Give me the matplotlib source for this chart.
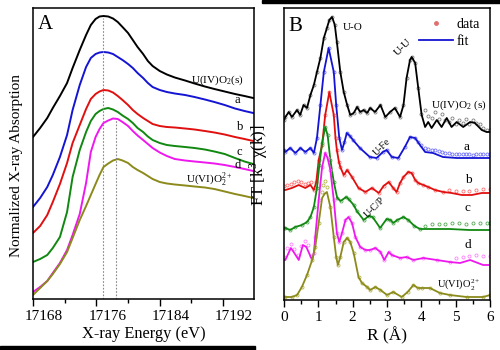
import numpy as np
import matplotlib
matplotlib.use("Agg")
import matplotlib.pyplot as plt
from matplotlib.lines import Line2D
from matplotlib.patches import Rectangle
import matplotlib.transforms as mtransforms

plt.rcParams['font.family'] = ['Liberation Serif', 'DejaVu Serif']
plt.rcParams['mathtext.fontset'] = 'stix'

# ---------------- Panel A : XANES ----------------
E_A = [17168.0,17168.9,17169.8,17170.5,17171.4,17172.3,17173.0,17173.9,17174.7,17175.3,17175.9,17176.4,17176.9,17177.5,17178.1,17178.7,17179.3,17180.0,17180.6,17181.2,17181.9,17182.5,17183.1,17184.0,17184.9,17185.9,17187.2,17188.4,17189.7,17190.9,17192.2,17193.5,17194.7,17195.8]
mu_black = [163,172,182,192,204,217,232,250,265,275,281,283.5,284,283.5,281.5,278,273,267,260,253,246,239,234,229,225.5,222.5,219.5,216.5,213.5,211,208.5,206,204,202]
mu_blue = [93,102,113,125,143,165,190,215,233,242,246,247.5,248,247.5,246,243,240,236,232,227,222,217,213,210,208,206.5,205,203,200.5,198,195,191.5,189,187]
mu_red = [67,74,85,98,116,137,157,175,191,201,206,208.5,210,209.5,207.5,204,200,195,190,186,182,179,176,174,173,172.5,171.5,170.5,169,167.5,165.5,163,161,159]
mu_green = [38,41,45,52,63,88,123,150,168,179,186,189,191,192,190.5,188,184.5,181,177,172,168,163.5,160,157,155,154,153,152,150.5,148.5,146,142,138.5,136]
mu_mag = [8,13,19,27,37,50,65,86,117,148,163,171,177,179.5,181.5,181,178,174,169,164.5,160,156,152,147.5,144,141,139.5,138.5,137.5,136.5,135,133,131,129]
mu_olive = [5,12,19,26,36,48,62,80,94,105,116,125,133,136.5,139.5,141,139.5,137,133,130,127,124,121,118,116.5,115.5,114.5,113.5,112.5,111,108.5,106,104,102]

edge_lines = [17176.8, 17178.5]
edge_tops = [282, 180]

xanes_ticks = [17168, 17176, 17184, 17192]

# ---------------- Panel B : FT EXAFS ----------------
R_black = [0.0,0.04,0.14,0.23,0.38,0.47,0.57,0.67,0.77,0.87,0.96,1.06,1.16,1.25,1.32,1.40,1.48,1.54,1.64,1.74,1.84,1.93,2.03,2.13,2.22,2.32,2.42,2.51,2.65,2.81,2.95,3.09,3.23,3.38,3.48,3.57,3.67,3.72,3.82,3.91,4.01,4.11,4.20,4.30,4.45,4.59,4.74,4.88,5.03,5.22,5.42,5.56,5.76,5.90,6.0]
y_black = [180,183,188,183,190,185,195,192,205,215,228,242,262,272,280,283,275,258,228,208,195,185,187,193,188,190,187,192,188,195,183,188,192,183,195,222,240,243,237,212,185,173,178,172,180,173,182,173,178,173,178,177,170,168,168]
Rd_black = [4.0,4.1,4.2,4.3,4.4,4.5,4.6,4.7,4.8,4.9,5.0,5.1,5.2,5.3,5.4,5.5,5.6,5.7,5.8,5.9,6.0]
yd_black = [186,190,184,182,188,181,186,180,178,182,176,180,177,181,176,180,177,176,172,170,170]

R_blue = [0.0,0.04,0.18,0.33,0.48,0.62,0.77,0.87,0.96,1.06,1.16,1.30,1.45,1.52,1.61,1.69,1.76,1.83,1.92,2.01,2.21,2.50,2.70,2.88,2.99,3.14,3.33,3.52,3.67,3.82,3.96,4.11,4.34,4.63,5.03,5.42,5.80,6.0]
y_blue = [150,148,152,147,152,148,152,147,162,195,228,252,228,195,162,150,158,167,164,160,152,143,142,148,150,143,142,153,163,162,155,148,147,143,142,142,142,142]
Rd_blue = [3.9,4.0,4.1,4.2,4.3,4.4,4.5,4.6,4.7,4.8,4.9,5.0,5.1,5.2,5.3,5.4,5.5,5.6,5.7,5.8,5.9,6.0]
yd_blue = [158,155,152,151,150,150,149,148,147,147,146,146,146,146,146,146,145,146,146,146,146,146]

R_red = [0.0,0.04,0.23,0.43,0.62,0.77,0.87,0.94,1.01,1.11,1.20,1.32,1.45,1.50,1.54,1.60,1.64,1.74,1.84,1.98,2.17,2.37,2.56,2.76,2.90,3.05,3.18,3.28,3.38,3.48,3.62,3.72,3.82,3.91,4.06,4.20,4.40,4.64,4.88,5.18,5.47,5.76,6.0]
y_red = [110,110,112,115,112,115,110,118,140,155,185,208,185,162,150,138,133,125,130,123,112,108,112,107,114,118,112,108,117,123,128,127,120,117,115,113,110,108,107,105,105,107,107]
Rd_red = [0.0,0.1,0.2,0.3,0.4,0.5,0.6,0.7,0.8]
yd_red = [114,115,116,118,119,118,116,117,118]
Rd_red2 = [4.8,5.0,5.2,5.4,5.6,5.8,6.0]
yd_red2 = [110,109,109,109,110,111,111]

R_green = [0.0,0.04,0.18,0.33,0.52,0.67,0.77,0.87,0.96,1.03,1.11,1.20,1.27,1.35,1.45,1.55,1.65,1.81,1.88,2.03,2.12,2.32,2.47,2.58,2.80,2.99,3.10,3.18,3.30,3.48,3.62,3.80,3.96,4.25,4.83,5.40,6.0]
y_green = [72,72,70,73,75,78,83,93,112,135,157,173,165,140,118,102,99,103,101,95,89,80,84,83,72,81,80,77,80,83,80,74,71,71,71,70,70]
Rd_green = [4.1,4.3,4.5,4.7,4.9,5.1,5.3,5.5,5.7,5.9,6.0]
yd_green = [74,76,76,76,77,77,76,77,77,77,77]

R_mag = [0.0,0.04,0.2,0.3,0.43,0.55,0.65,0.82,0.87,0.91,1.01,1.11,1.20,1.27,1.35,1.45,1.54,1.61,1.69,1.79,1.88,1.98,2.08,2.22,2.37,2.51,2.66,2.81,2.92,3.05,3.14,3.38,3.57,3.77,4.06,4.45,4.83,5.13,5.42,5.80,6.0]
y_mag = [40,40,52,47,40,55,53,40,47,63,100,133,147,142,130,100,67,58,67,80,83,77,63,53,50,50,52,48,40,48,45,42,43,40,42,40,38,37,40,35,35]
Rd_mag = [0.0,0.1,0.2,0.3,0.4,0.5,0.6,0.7,0.8]
yd_mag = [43,52,56,51,45,54,59,55,44]
Rd_mag2 = [5.0,5.2,5.4,5.6,5.8,6.0]
yd_mag2 = [42,43,44,45,44,44]

R_olive = [0.0,0.04,0.23,0.38,0.52,0.67,0.82,0.91,1.01,1.11,1.18,1.25,1.35,1.45,1.52,1.57,1.64,1.74,1.84,1.93,2.03,2.17,2.27,2.42,2.51,2.66,2.81,3.0,3.18,3.43,3.60,3.77,3.90,4.01,4.25,4.54,4.83,5.32,5.80,6.0]
y_olive = [3,3,3,5,13,25,40,53,77,102,106,108,93,63,43,35,43,58,62,58,47,23,17,13,10,13,10,5,8,3,8,15,12,12,12,7,5,3,3,5]
Rd_olive = [1.10,1.15,1.20,1.25]
yd_olive = [108,115,119,113]

C_BLACK, C_BLUE, C_RED, C_GREEN, C_MAG, C_OLIVE = '#000000', '#1414d2', '#e01010', '#118811', '#ee18ee', '#8c8a1c'
D_BLACK, D_BLUE, D_RED, D_GREEN, D_MAG, D_OLIVE = '#808080', '#7070ff', '#ff7070', '#55aa55', '#ff80ff', '#b4b448'

fig = plt.figure(figsize=(5.0, 3.5), dpi=100)
W, H = 500.0, 350.0
axA = fig.add_axes([33/W, 1-299/H, (254-33)/W, (299-8)/H])
axB = fig.add_axes([284/W, 1-300/H, (490-284)/W, (300-8)/H])

lw = 1.4
for mu, c in [(mu_black, C_BLACK), (mu_blue, C_BLUE), (mu_red, C_RED),
              (mu_green, C_GREEN), (mu_mag, C_MAG), (mu_olive, C_OLIVE)]:
    axA.plot(E_A, mu, color=c, lw=lw, solid_joinstyle='round')
axA.vlines(edge_lines, 1, edge_tops, colors='#888888', linestyles=(0, (1.5, 1.5)), lw=0.8)
axA.set_xlim(17168, 17195.9)
axA.set_ylim(1, 292)
axA.set_xticks(xanes_ticks)
axA.set_xticks(np.arange(17168, 17196, 4), minor=True)
axA.set_yticks([])
axA.tick_params(axis='x', which='major', direction='out', length=5, width=1, labelsize=11, pad=3)
axA.tick_params(axis='x', which='minor', direction='out', length=3, width=1)
offset = mtransforms.ScaledTranslation(11/100, 0, fig.dpi_scale_trans)
for lab in axA.get_xticklabels():
    lab.set_transform(lab.get_transform() + offset)
axA.set_xlabel('X-ray Energy (eV)', fontsize=11.8)
axA.xaxis.set_label_coords(0.5, -0.092)
axA.set_ylabel('Normalized X-ray Absorption', fontsize=11)
axA.yaxis.set_label_coords(-0.045, 0.46)
axA.text(0.055, 0.945, 'A', transform=axA.transAxes, fontsize=15, ha='center', va='center')
tk = dict(fontsize=8, ha='center', va='center')
axA.text(17191.3, 220, r'U(IV)O$_\mathregular{2}$(s)', **tk)
axA.text(17193.8, 200, 'a', fontsize=9, ha='center', va='center')
axA.text(17194.1, 173, 'b', fontsize=9, ha='center', va='center')
axA.text(17194.0, 148, 'c', fontsize=9, ha='center', va='center')
axA.text(17193.8, 135, 'd', fontsize=9, ha='center', va='center')
axA.text(17190.3, 120, r'U(VI)O$_\mathregular{2}^{\mathregular{2+}}$', **tk)

def merged(Rf, yf, segs):
    Rf = np.asarray(Rf); yf = np.asarray(yf)
    keep = np.ones(len(Rf), bool)
    Rs, ys = [], []
    for Rd, yd in segs:
        keep &= ~((Rf >= min(Rd) - 0.02) & (Rf <= max(Rd) + 0.02))
        Rs.append(np.asarray(Rd)); ys.append(np.asarray(yd))
    Rall = np.concatenate([Rf[keep]] + Rs)
    yall = np.concatenate([yf[keep]] + ys)
    o = np.argsort(Rall)
    return Rall[o], yall[o]

curvesB = [
    (R_black, y_black, [(Rd_black, yd_black)], C_BLACK, D_BLACK),
    (R_blue, y_blue, [(Rd_blue, yd_blue)], C_BLUE, D_BLUE),
    (R_red, y_red, [(Rd_red, yd_red), (Rd_red2, yd_red2)], C_RED, D_RED),
    (R_green, y_green, [(Rd_green, yd_green)], C_GREEN, D_GREEN),
    (R_mag, y_mag, [(Rd_mag, yd_mag), (Rd_mag2, yd_mag2)], C_MAG, D_MAG),
    (R_olive, y_olive, [(Rd_olive, yd_olive)], C_OLIVE, D_OLIVE),
]
for Rf, yf, segs, c, dc in curvesB:
    Rd, yd = merged(Rf, yf, segs)
    axB.plot(Rd, yd, ls='none', marker='o', ms=2.2, mfc='none', mec=dc, mew=0.6)
    axB.plot(Rf, yf, color=c, lw=1.3, solid_joinstyle='round')

axB.set_xlim(0, 6)
axB.set_ylim(0, 292)
axB.set_xticks(range(0, 7))
axB.set_xticks(np.arange(0, 6.01, 0.5), minor=True)
axB.set_yticks([])
axB.tick_params(axis='x', which='major', direction='out', length=5, width=1, labelsize=11, pad=3)
axB.tick_params(axis='x', which='minor', direction='out', length=3, width=1)
axB.set_xlabel('R (Å)', fontsize=12.5)
axB.xaxis.set_label_coords(0.5, -0.092)
axB.set_ylabel(r'FT [k$^\mathregular{3}$ χ(k)]', fontsize=12)
axB.yaxis.set_label_coords(-0.068, 0.46)
axB.text(0.055, 0.935, 'B', transform=axB.transAxes, fontsize=15, ha='center', va='center')
axB.text(2.0, 273, 'U-O', fontsize=8, ha='center', va='center')
axB.text(3.47, 253, 'U-U', fontsize=8, ha='center', va='center', rotation=45)
axB.text(5.08, 195, r'U(IV)O$_\mathregular{2}$ (s)', fontsize=8, ha='center', va='center')
axB.text(5.33, 153, 'a', fontsize=9.5, ha='center', va='center')
axB.text(2.85, 153, 'U-Fe', fontsize=7, ha='center', va='center', rotation=45)
axB.text(5.36, 120, 'b', fontsize=9.5, ha='center', va='center')
axB.text(2.65, 93, 'U-C/P', fontsize=7, ha='center', va='center', rotation=45)
axB.text(5.33, 92, 'c', fontsize=9.5, ha='center', va='center')
axB.text(5.36, 55, 'd', fontsize=9.5, ha='center', va='center')
axB.text(5.1, 15, r'U(VI)O$_\mathregular{2}^{\mathregular{2+}}$', fontsize=7.5, ha='center', va='center')

handles = [Line2D([], [], ls='none', marker='o', ms=2.5, color='#e07070'),
           Line2D([], [], color=C_BLUE, lw=1.3)]
axB.legend(handles, ['data', 'fit'], loc='upper right', frameon=False, fontsize=10,
           handlelength=2.4, handletextpad=0.3, labelspacing=0.3, borderaxespad=0.3)

for ax in (axA, axB):
    for s in ax.spines.values():
        s.set_linewidth(1.1)

# decorative black bars of the source image
fig.patches.append(Rectangle((0, 0), 255/W, 4/H, transform=fig.transFigure, color='black', zorder=5))
fig.patches.append(Rectangle((262/W, 1-3/H), (500-262)/W, 3/H, transform=fig.transFigure, color='black', zorder=5))

fig.savefig('out.png', dpi=100)
